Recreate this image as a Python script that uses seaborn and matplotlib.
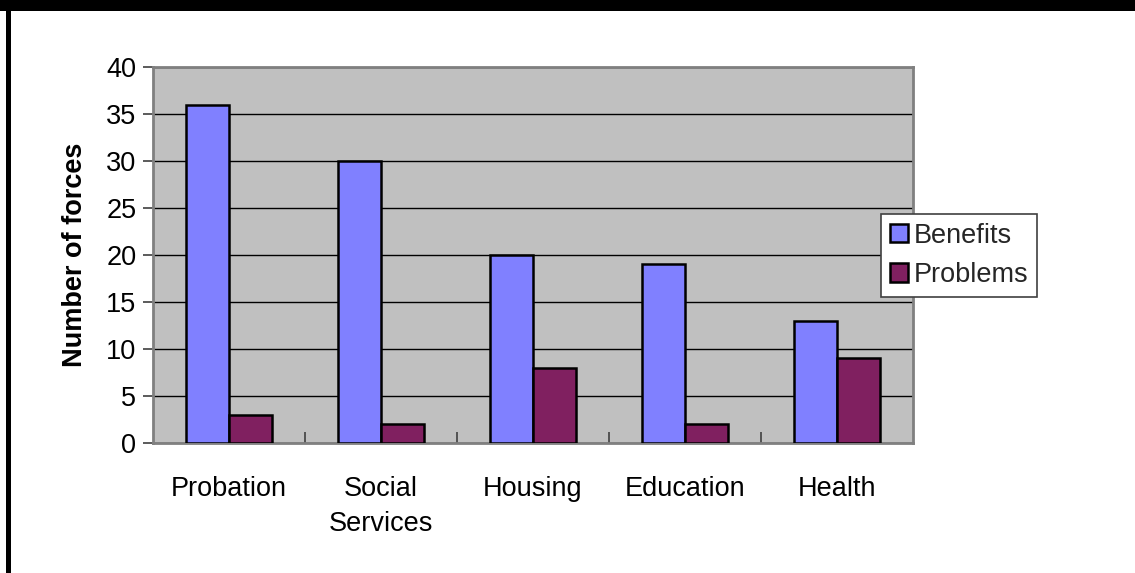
import matplotlib
matplotlib.use("Agg")
import matplotlib.pyplot as plt
import seaborn as sns
import pandas as pd
from matplotlib.patches import Rectangle

categories = ["Probation", "Social\nServices", "Housing", "Education", "Health"]
benefits = [36, 30, 20, 19, 13]
problems = [3, 2, 8, 2, 9]
series_names = ["Benefits", "Problems"]
y_ticks = [0, 5, 10, 15, 20, 25, 30, 35, 40]

df = pd.DataFrame({
    "category": categories * 2,
    "series": [series_names[0]] * len(categories) + [series_names[1]] * len(categories),
    "value": benefits + problems,
})

sns.set_theme(style="white")
plt.rcParams["font.family"] = ["Liberation Sans", "DejaVu Sans"]

FS = 19.5
W, H = 1135, 573
fig = plt.figure(figsize=(W / 100, H / 100), dpi=100)
fig.patch.set_facecolor("white")
ax = fig.add_axes([153 / W, 1 - 443 / H, (913 - 153) / W, (443 - 67) / H])

palette = {"Benefits": "#8080FF", "Problems": "#802060"}
sns.barplot(data=df, x="category", y="value", hue="series", palette=palette,
            width=0.57, edgecolor="black", linewidth=1.8, saturation=1,
            ax=ax, legend=True, zorder=3)

ax.set_facecolor("#C0C0C0")
ax.set_ylim(0, 40)
ax.set_xlim(-0.5, len(categories) - 0.5)
ax.set_yticks(y_ticks)
ax.yaxis.grid(True, color="black", linewidth=1.0, zorder=1)
ax.set_axisbelow(True)
ax.xaxis.grid(False)
for s in ax.spines.values():
    s.set_color("#808080")
    s.set_linewidth(2)
ax.tick_params(axis="y", direction="out", length=7, width=1.2, color="#404040",
               labelsize=FS, pad=5, left=True)
ax.tick_params(axis="x", which="major", length=0, labelsize=FS, pad=24)
ax.set_xticks([i + 0.5 for i in range(len(categories) - 1)], minor=True)
ax.tick_params(axis="x", which="minor", direction="in", length=8, width=1.2,
               color="#404040", bottom=True)
for lab in ax.get_xticklabels() + ax.get_yticklabels():
    lab.set_color("black")
    lab.set_linespacing(1.45)
ax.set_xlabel("")
ax.set_ylabel("Number of forces", fontsize=FS, fontweight="bold", color="black", labelpad=13)

leg = ax.legend(loc="upper left", bbox_to_anchor=((881 - 153) / (913 - 153), 1 - (214 - 67) / (443 - 67)),
                frameon=True, fancybox=False, fontsize=FS, handlelength=0.68,
                handleheight=0.68, handletextpad=0.2, borderpad=0.32,
                labelspacing=0.5, borderaxespad=0)
leg.get_frame().set_edgecolor("#404040")
leg.get_frame().set_linewidth(1.2)
leg.get_frame().set_facecolor("white")
leg.get_frame().set_alpha(1)
for h in leg.legend_handles:
    h.set_linewidth(1.8)
    h.set_edgecolor("black")

fig.patches.append(Rectangle((0, 1 - 11 / H), 1, 11 / H, transform=fig.transFigure,
                             facecolor="black", edgecolor="none", zorder=10))
fig.patches.append(Rectangle((6 / W, 0), 5 / W, 1, transform=fig.transFigure,
                             facecolor="black", edgecolor="none", zorder=10))

fig.savefig("out.png", dpi=100)
